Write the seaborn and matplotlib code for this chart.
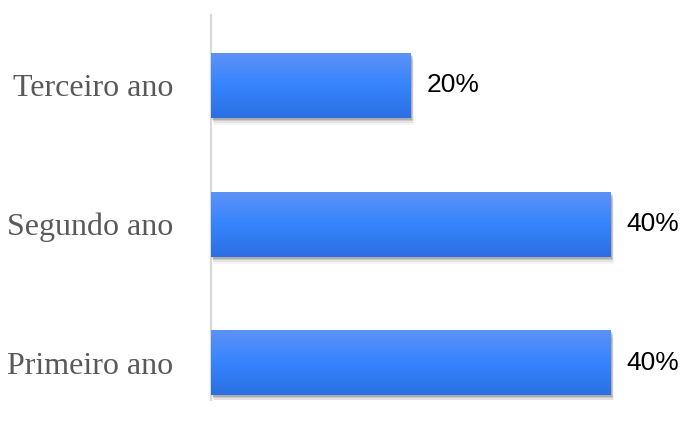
import numpy as np
import pandas as pd
import matplotlib
matplotlib.use("Agg")
import matplotlib.pyplot as plt
import matplotlib.transforms as mtransforms
from matplotlib.patches import Rectangle
from matplotlib.colors import LinearSegmentedColormap
import seaborn as sns

categories = ["Terceiro ano", "Segundo ano", "Primeiro ano"]
values = [20, 40, 40]
value_labels = ["20%", "40%", "40%"]

sns.set_theme(style="white")
plt.rcParams['font.family'] = ['DejaVu Sans']

fig = plt.figure(figsize=(6.83, 4.21), dpi=100)
ax = fig.add_axes([211/683, 1-400/421, 450/683, 385/421])

df = pd.DataFrame({"cat": categories, "val": values})
sns.barplot(data=df, x="val", y="cat", order=categories, orient="h",
            width=0.47, color="#3a86fd", ax=ax, zorder=3)

cmap = LinearSegmentedColormap.from_list(
    "g", [(0, "#5e92f6"), (0.5, "#3684fd"), (1.0, "#2b6fe2")])
grad = np.linspace(0, 1, 256).reshape(-1, 1)

for p in list(ax.patches):
    x0, y0 = p.get_x(), p.get_y()
    w, h = p.get_width(), p.get_height()
    # soft shadow layers
    for dx, dy, a in [(1, -2, 0.14), (2, -3, 0.11), (2, -5, 0.07), (3, -7, 0.04)]:
        tr = mtransforms.offset_copy(ax.transData, fig=fig, x=dx, y=dy, units="dots")
        ax.add_patch(Rectangle((x0, y0), w, h, transform=tr, facecolor="black",
                               edgecolor="none", alpha=a, zorder=2))
    p.set_facecolor("none")
    p.set_edgecolor("none")
    im = ax.imshow(grad, cmap=cmap, aspect="auto", origin="upper",
                   extent=(x0, x0 + w, y0 + h, y0), zorder=4, interpolation="bilinear")
    im.set_clip_path(p)

for i, (v, lab) in enumerate(zip(values, value_labels)):
    ax.annotate(lab, xy=(v, i), xytext=(11, 0), textcoords="offset points",
                ha="left", va="center", fontsize=19, color="black",
                family=["Liberation Sans", "DejaVu Sans"], zorder=5, annotation_clip=False)

ax.set_xlim(0, 45)
ax.set_ylim(2.268, -0.508)
ax.set_xlabel("")
ax.set_ylabel("")
ax.set_xticks([])
for s in ["top", "right", "bottom"]:
    ax.spines[s].set_visible(False)
ax.spines["left"].set_color("#d9d9d9")
ax.spines["left"].set_linewidth(1.6)
ax.tick_params(axis="y", length=0, pad=27)
for t in ax.get_yticklabels():
    t.set_family(["Liberation Serif", "DejaVu Serif"])
    t.set_fontsize(23)
    t.set_color("#595959")

fig.savefig("out.png", dpi=100)
